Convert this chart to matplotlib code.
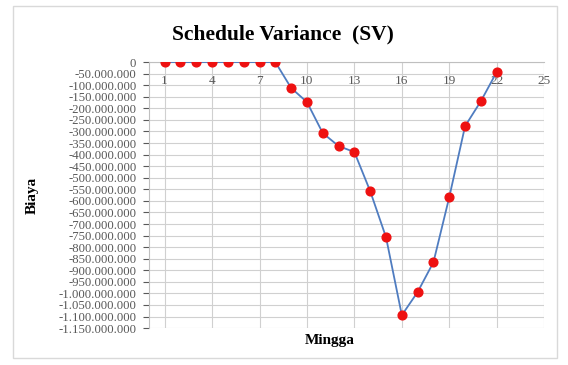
import matplotlib.pyplot as plt
from matplotlib.ticker import FuncFormatter
from matplotlib.patches import Rectangle

# schedule variance per week (Rupiah)
minggu = list(range(1, 23))
sv = [0, 0, 0, 0, 0, 0, 0, 0,
      -112000000, -173000000, -307000000, -363000000, -389000000,
      -558000000, -757000000, -1094000000, -994000000, -865000000,
      -584000000, -277000000, -169000000, -43000000]
x_ticks = [1, 4, 7, 10, 13, 16, 19, 22, 25]
y_ticks = list(range(0, -1150000001, -50000000))

plt.rcParams['font.family'] = ['Liberation Serif', 'DejaVu Serif']

def rupiah(v, pos):
    s = "{:,.0f}".format(v).replace(",", ".")
    return s

fig = plt.figure(figsize=(5.68, 3.65), dpi=100)
fig.patches.append(Rectangle((0.023, 0.02), 0.958, 0.963, transform=fig.transFigure,
                             fill=False, edgecolor="#d9d9d9", linewidth=1))
ax = fig.add_axes([0.262, 0.101, 0.696, 0.729])

ax.plot(minggu, sv, color="#4f7cc0", linewidth=1.3, marker="o",
        markersize=6.3, markerfacecolor="#ee1111", markeredgecolor="#ee1111", zorder=3)

ax.set_xlim(0, 25)
ax.set_ylim(-1150000000, 0)
ax.set_xticks(x_ticks)
ax.set_yticks(y_ticks)
ax.yaxis.set_major_formatter(FuncFormatter(rupiah))
ax.grid(True, color="#d0d0d0", linewidth=0.8)
ax.set_axisbelow(True)

ax.spines['bottom'].set_position(('data', 0))
ax.spines['bottom'].set_color("#bfbfbf")
ax.spines['left'].set_color("#bfbfbf")
ax.spines['top'].set_visible(False)
ax.spines['right'].set_visible(False)
ax.tick_params(axis='x', labelsize=9.5, colors="#595959", length=0, pad=9)
ax.tick_params(axis='y', labelsize=9.2, colors="#595959", length=4, pad=5)

fig.text(0.498, 0.905, "Schedule Variance  (SV)", ha="center", va="center",
         fontsize=15.5, fontweight="bold")
fig.text(0.057, 0.465, "Biaya", ha="center", va="center", rotation=90,
         fontsize=11, fontweight="bold")
fig.text(0.58, 0.068, "Mingga", ha="center", va="center",
         fontsize=11, fontweight="bold")

plt.savefig("out.png", dpi=100)
